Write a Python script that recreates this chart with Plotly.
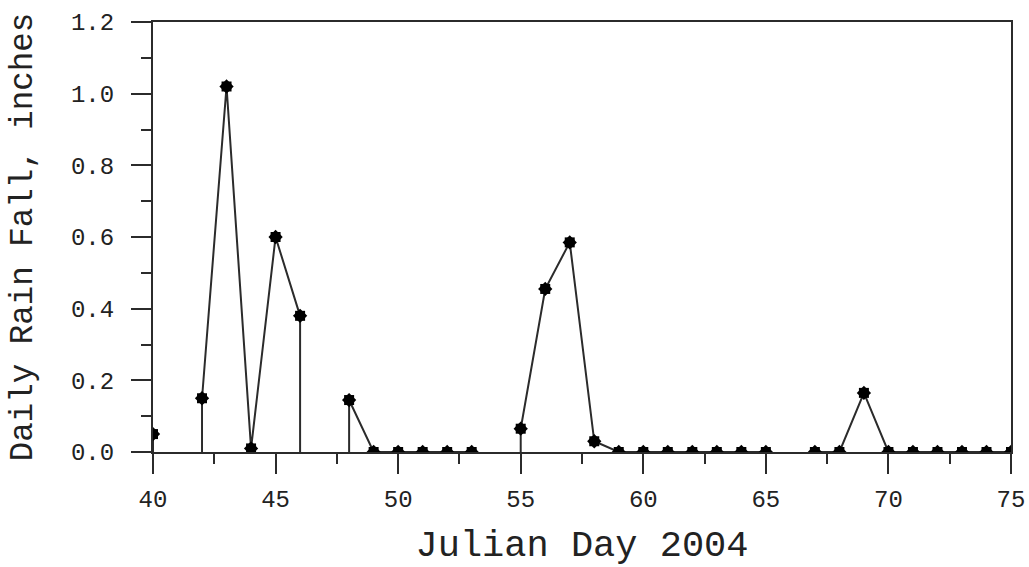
import plotly.graph_objects as go

# Daily rainfall record (days with no reading are simply absent)
julian_day = [40, 42, 43, 44, 45, 46, 48, 49, 50, 51, 52, 53, 55, 56, 57, 58, 59,
              60, 61, 62, 63, 64, 65, 67, 68, 69, 70, 71, 72, 73, 74, 75]
rain_in = [0.05, 0.15, 1.02, 0.01, 0.60, 0.38, 0.145, 0.0, 0.0, 0.0, 0.0, 0.0,
           0.065, 0.455, 0.585, 0.03, 0.0, 0.0, 0.0, 0.0, 0.0, 0.0, 0.0, 0.0,
           0.0, 0.165, 0.0, 0.0, 0.0, 0.0, 0.0, 0.0]

x_ticks = [40, 45, 50, 55, 60, 65, 70, 75]
y_ticks = [0.0, 0.2, 0.4, 0.6, 0.8, 1.0, 1.2]
y_tick_text = ["0.0", "0.2", "0.4", "0.6", "0.8", "1.0", "1.2"]

FONT = "Courier New, Liberation Mono, monospace"
INK = "#2b2b2b"

# Connect consecutive days only; break the line across missing days
line_x, line_y = [], []
for i, (d, v) in enumerate(zip(julian_day, rain_in)):
    if i > 0 and d - julian_day[i - 1] > 1:
        line_x.append(None)
        line_y.append(None)
    line_x.append(d)
    line_y.append(v)

# Drop a vertical line to zero for readings bordering a missing day
day_set = set(julian_day)
drop_x, drop_y = [], []
for d, v in zip(julian_day, rain_in):
    if (d - 1 not in day_set) or (d + 1 not in day_set):
        drop_x += [d, d, None]
        drop_y += [0, v, None]

fig = go.Figure()
fig.add_trace(go.Scatter(x=drop_x, y=drop_y, mode="lines",
                         line=dict(color=INK, width=2), hoverinfo="skip"))
fig.add_trace(go.Scatter(x=line_x, y=line_y, mode="lines",
                         line=dict(color=INK, width=2)))
# Eight-pointed star markers built from a square and a diamond
fig.add_trace(go.Scatter(x=julian_day, y=rain_in, mode="markers",
                         marker=dict(symbol="square", size=10, color="black",
                                     line=dict(width=0))))
fig.add_trace(go.Scatter(x=julian_day, y=rain_in, mode="markers",
                         marker=dict(symbol="diamond", size=11, color="black",
                                     line=dict(width=0))))

axis_common = dict(
    showline=True, linecolor=INK, linewidth=2, mirror=True,
    ticks="outside", ticklen=20, tickwidth=2, tickcolor=INK,
    showgrid=False, zeroline=False, automargin=False,
    tickfont=dict(family=FONT, size=24, color="#222"),
)

fig.update_xaxes(
    **axis_common,
    range=[40, 75], tickvals=x_ticks, ticktext=[str(t) for t in x_ticks],
    minor=dict(dtick=2.5, tick0=40, ticks="outside", ticklen=10,
               tickwidth=2, tickcolor=INK, showgrid=False),
    ticklabelstandoff=4,
    title=dict(text="Julian Day 2004", standoff=40,
               font=dict(family=FONT, size=37, color="#222")),
)
fig.update_yaxes(
    **axis_common,
    range=[0, 1.2], tickvals=y_ticks, ticktext=y_tick_text,
    minor=dict(dtick=0.1, tick0=0, ticks="outside", ticklen=10,
               tickwidth=2, tickcolor=INK, showgrid=False),
    ticklabelstandoff=12,
    title=dict(text="Daily Rain Fall, inches", standoff=29,
               font=dict(family=FONT, size=32.5, color="#222")),
)

fig.update_layout(
    width=1029, height=567,
    margin=dict(l=153, r=18, t=22, b=115),
    paper_bgcolor="white", plot_bgcolor="white",
    showlegend=False,
)

fig.write_html("out.html")
